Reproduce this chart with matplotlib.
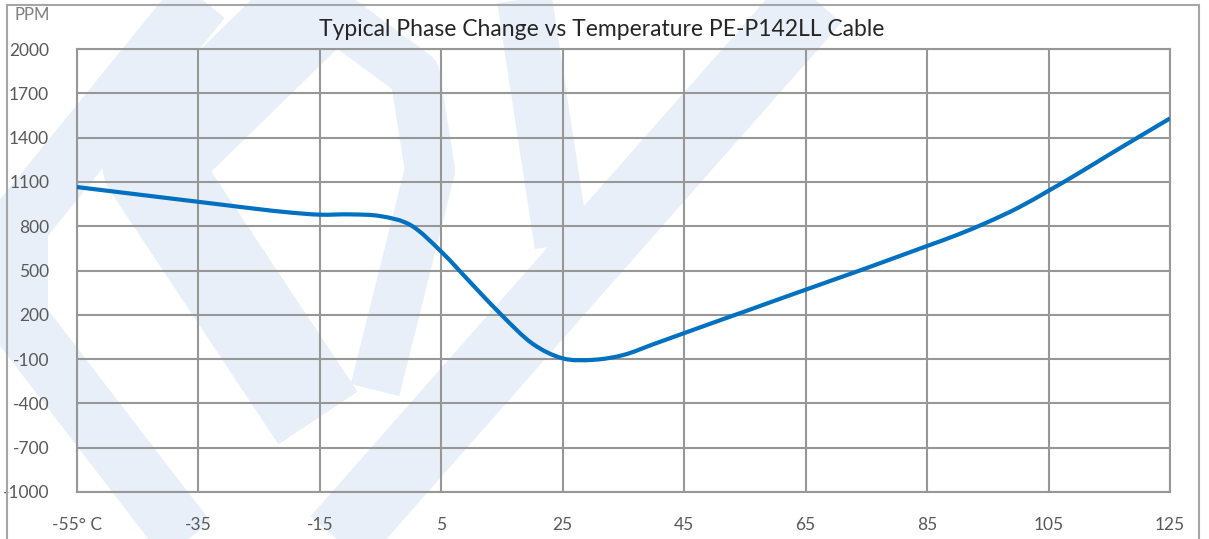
import numpy as np
import matplotlib.pyplot as plt
from matplotlib.lines import Line2D
from matplotlib.path import Path
from matplotlib.patches import PathPatch

# values
temps = [-55, -50, -45, -40, -35, -30, -25, -20, -15, -10, -5, 0, 5, 10, 15, 20,
         25, 30, 35, 40, 45, 50, 55, 60, 65, 70, 75, 80, 85, 90, 95, 100, 105,
         110, 115, 120, 125]
ppm = [1065, 1040, 1015, 990, 965, 940, 915, 893, 878, 880, 868, 806, 627, 410,
       195, 5, -95, -105, -72, 2, 76, 150, 223, 297, 370, 443, 516, 591, 666,
       742, 828, 925, 1040, 1160, 1285, 1408, 1530]

x_ticks = [-55, -35, -15, 5, 25, 45, 65, 85, 105, 125]
x_labels = ['-55° C', '-35', '-15', '5', '25', '45', '65', '85', '105', '125']
y_ticks = list(range(-1000, 2001, 300))

W, H = 1209, 539
plt.rcParams['font.family'] = ['Lato', 'DejaVu Sans']
plt.rcParams['axes.unicode_minus'] = False

fig = plt.figure(figsize=(W / 100, H / 100), dpi=100)


def px(x, y):
    return x / W, 1 - y / H


# light logo watermark behind the chart
wm = '#e8eff8'
strokes = [
    ([(225, -30), (18, 225), (18, 320), (210, 570)], 60),
    ([(350, -30), (150, 165), (318, 418)], 95),
    ([(300, -10), (415, 75), (430, 170), (375, 390)], 50),
    ([(320, 560), (840, -30)], 72),
    ([(520, -30), (562, 245)], 55),
]
for pts, w in strokes:
    xs, ys = zip(*[px(a, b) for a, b in pts])
    fig.add_artist(Line2D(xs, ys, transform=fig.transFigure, color=wm,
                          linewidth=w * 0.72, solid_capstyle='butt',
                          solid_joinstyle='round', zorder=0))

# outer frame, open at the bottom
fx0, fy0 = px(7, 5)
fx1, _ = px(1199, 5)
for xs, ys in [([fx0, fx0], [fy0, -0.1]), ([fx0, fx1], [fy0, fy0]), ([fx1, fx1], [fy0, -0.1])]:
    fig.add_artist(Line2D(xs, ys, transform=fig.transFigure, color='#a6a6a6', linewidth=1.5))

ax = fig.add_axes([77 / W, 1 - 492 / H, (1170 - 77) / W, (492 - 49) / H])
ax.set_facecolor('none')

# smoothed line through the points (catmull-rom as cubic beziers)
pts = np.column_stack([temps, ppm]).astype(float)
ext = np.vstack([pts[0], pts, pts[-1]])
verts = [pts[0]]
codes = [Path.MOVETO]
for i in range(1, len(ext) - 2):
    p0, p1, p2, p3 = ext[i - 1], ext[i], ext[i + 1], ext[i + 2]
    verts += [p1 + (p2 - p0) / 6, p2 - (p3 - p1) / 6, p2]
    codes += [Path.CURVE4] * 3
ax.add_patch(PathPatch(Path(verts, codes), facecolor='none', edgecolor='#0070c0',
                       linewidth=3, capstyle='butt', zorder=3))

ax.set_xlim(-55, 125)
ax.set_ylim(-1000, 2000)
ax.set_xticks(x_ticks)
ax.set_xticklabels(x_labels)
ax.set_yticks(y_ticks)
ax.grid(True, color='#979797', linewidth=1.5)
for s in ax.spines.values():
    s.set_color('#979797')
    s.set_linewidth(1.5)
ax.tick_params(length=0, labelsize=12.5, labelcolor='#595959')
ax.tick_params(axis='y', pad=20)
ax.tick_params(axis='x', pad=18)

fig.text(*px(602, 29), 'Typical Phase Change vs Temperature PE-P142LL Cable',
         ha='center', va='center', fontsize=16.5, color='#262626')
fig.text(*px(14, 15), 'PPM', ha='left', va='center', fontsize=12, color='#7f7f7f')

fig.savefig('out.png', dpi=100)
